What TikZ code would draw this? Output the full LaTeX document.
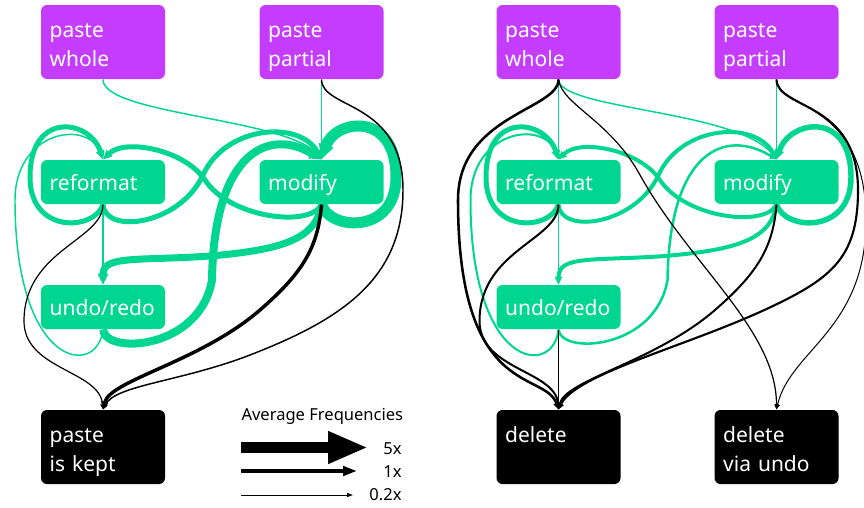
\documentclass[tikz,border=0pt]{standalone}
\usepackage{fontspec}
\setmainfont{Noto Sans}
\usetikzlibrary{arrows.meta,backgrounds}

\definecolor{pastepurple}{RGB}{196,61,255}
\definecolor{editgreen}{RGB}{0,214,143}

\tikzset{every picture/.style={line width=0.75pt}}
\tikzset{
  box/.style={rectangle, rounded corners=4.5pt, text=white, align=left,
    text width=80pt, inner xsep=6.5pt, inner ysep=0pt,
    font=\fontsize{15.75pt}{21.75pt}\selectfont},
  tallbox/.style={box, minimum height=55.5pt, text height=16.25pt, text depth=23.75pt},
  pastebox/.style={tallbox, fill=pastepurple},
  endbox/.style={tallbox, fill=black},
  editbox/.style={box, fill=editgreen, minimum height=33pt, text height=16.5pt, text depth=3.5pt},
  flow/.style={-{Triangle[length=3pt 1, width=2.5pt 1]}},
  gflow/.style={flow, color=editgreen},
  kflow/.style={flow, color=black},
  legendtext/.style={font=\fontsize{12.4pt}{15pt}\selectfont, inner sep=0pt},
}

\begin{document}
\begin{tikzpicture}[x=0.75pt,y=0.75pt,yscale=-1,xscale=1]
\useasboundingbox (0,0) rectangle (864,507);

%Boxes: paste is kept
\node[pastebox] (pwL) at (103,42) {paste\\whole};
\node[pastebox] (ppL) at (321.5,42) {paste\\partial};
\node[editbox] (rfL) at (103,182) {reformat};
\node[editbox] (mdL) at (321.5,182) {modify};
\node[editbox] (urL) at (103,307) {undo/redo};
\node[endbox] (keptL) at (103,447) {paste\\is kept};

%Boxes: paste is deleted
\node[pastebox] (pwR) at (558.5,42) {paste\\whole};
\node[pastebox] (ppR) at (776.5,42) {paste\\partial};
\node[editbox] (rfR) at (558.5,182) {reformat};
\node[editbox] (mdR) at (776.5,182) {modify};
\node[editbox] (urR) at (558.5,307) {undo/redo};
\node[endbox] (delR) at (558.5,447) {delete};
\node[endbox] (duR) at (776.5,447) {delete\\via undo};

\begin{scope}[on background layer]
%Green flows, left
\draw[gflow, line width=1.1pt] (pwL.south) .. controls (103,115) and (290,118) .. (mdL.north);
\draw[gflow, line width=1.1pt] (ppL.south) -- (mdL.north);
\draw[gflow, line width=1.1pt] (rfL.south) -- (urL.north);
\draw[gflow, line width=8.25pt] (mdL.south) .. controls +(8,26) and +(0,58) .. (396,177) .. controls +(0,-67) and +(13,-40) .. (mdL.north);
\draw[gflow, line width=3.75pt] (rfL.south) .. controls +(-8,26) and +(0,58) .. (30,177) .. controls +(0,-67) and +(-13,-40) .. (rfL.north);
\draw[gflow, line width=3.75pt] (rfL.south) .. controls (105,235) and (180,225) .. (203,175) .. controls (226,125) and (300,120) .. (mdL.north);
\draw[gflow, line width=3.75pt] (mdL.south) .. controls (310,228) and (230,218) .. (205,180) .. controls (185,150) and (125,138) .. (rfL.north);
\draw[gflow, line width=6pt] (urL.south) .. controls (105,355) and (200,350) .. (212,280) .. controls (214,150) and (270,128) .. (mdL.north);
\draw[gflow, line width=5.25pt] (mdL.south) .. controls (316,240) and (280,250) .. (210,256) .. controls (140,261) and (103,255) .. (urL.north);
\draw[gflow, line width=1.1pt] (urL.south) .. controls (98,378) and (15,370) .. (15,200) .. controls (15,130) and (90,118) .. (rfL.north);

%Black flows, left
\draw[kflow, line width=1.1pt] (ppL.south) .. controls (322,110) and (403,100) .. (403,190) .. controls (403,280) and (340,320) .. (250,355) .. controls (180,382) and (115,385) .. (keptL.north);
\draw[kflow, line width=2.6pt] (mdL.south) .. controls (318,250) and (300,275) .. (260,310) .. controls (200,362) and (110,380) .. (keptL.north);
\draw[kflow, line width=0.9pt] (rfL.south) .. controls (103,240) and (25,250) .. (24,320) .. controls (23,370) and (100,370) .. (keptL.north);

%Green flows, right
\draw[gflow, line width=1.1pt] (pwR.south) -- (rfR.north);
\draw[gflow, line width=1.1pt] (pwR.south) .. controls (560,110) and (740,110) .. (mdR.north);
\draw[gflow, line width=1.1pt] (ppR.south) -- (mdR.north);
\draw[gflow, line width=1.1pt] (rfR.south) -- (urR.north);
\draw[gflow, line width=4.1pt] (mdR.south) .. controls +(8,26) and +(0,58) .. (851,177) .. controls +(0,-67) and +(13,-40) .. (mdR.north);
\draw[gflow, line width=3.75pt] (rfR.south) .. controls +(-8,26) and +(0,58) .. (486,177) .. controls +(0,-67) and +(-13,-40) .. (rfR.north);
\draw[gflow, line width=3pt] (rfR.south) .. controls (560.5,235) and (635.5,225) .. (658.5,175) .. controls (681.5,125) and (755.5,120) .. (mdR.north);
\draw[gflow, line width=3pt] (mdR.south) .. controls (765,228) and (685,218) .. (660,180) .. controls (640,150) and (580,138) .. (rfR.north);
\draw[gflow, line width=1.9pt] (urR.south) .. controls (560.5,355) and (655.5,350) .. (667.5,280) .. controls (669.5,150) and (725.5,128) .. (mdR.north);
\draw[gflow, line width=3pt] (mdR.south) .. controls (771,240) and (735,250) .. (665,256) .. controls (595,261) and (558.5,255) .. (urR.north);
\draw[gflow, line width=1.5pt] (urR.south) .. controls (553.5,378) and (470.5,370) .. (470.5,200) .. controls (470.5,130) and (545.5,118) .. (rfR.north);

%Black flows, right
\draw[kflow, line width=1.9pt] (pwR.south) .. controls (558.5,110) and (458,115) .. (458,200) .. controls (458,400) and (545,370) .. (delR.north);
\draw[kflow, line width=0.9pt] (pwR.south) .. controls (562,105) and (610,120) .. (640,175) .. controls (690,265) and (776.5,330) .. (duR.north);
\draw[kflow, line width=1.5pt] (rfR.south) .. controls (558.5,240) and (480.5,250) .. (479.5,320) .. controls (478.5,370) and (555.5,370) .. (delR.north);
\draw[kflow, line width=0.9pt] (urR.south) -- (delR.north);
\draw[kflow, line width=1.5pt] (mdR.south) .. controls (773,250) and (755,275) .. (715,310) .. controls (655,362) and (565,380) .. (delR.north);
\draw[kflow, line width=1.6pt] (ppR.south) .. controls (777,110) and (858,100) .. (858,190) .. controls (858,260) and (830,280) .. (760,312) .. controls (680,348) and (575,375) .. (delR.north);
\draw[kflow, line width=0.75pt] (ppR.south) .. controls (778,110) and (866,100) .. (866,220) .. controls (866,330) and (790,350) .. (duR.north);
\end{scope}

%Legend
\node[legendtext, anchor=base west] (freqtitle) at (241,420) {Average Frequencies};
\node[legendtext, anchor=base east] (f5lbl) at (402,454) {5x};
\node[legendtext, anchor=base east] (f1lbl) at (402,477) {1x};
\node[legendtext, anchor=base east] (f02lbl) at (402,500) {0.2x};
\coordinate (f5a) at (241,447.5);
\coordinate (f5b) at (368,447.5);
\coordinate (f1a) at (241,471);
\coordinate (f1b) at (357,471);
\coordinate (f02a) at (241,495);
\coordinate (f02b) at (353,495);
\draw[line width=8.75pt, -{Triangle[length=30pt 0, width=22.5pt 0]}] (f5a) -- (f5b);
\draw[line width=3pt, -{Triangle[length=10.5pt 0, width=7pt 0]}] (f1a) -- (f1b);
\draw[line width=0.75pt, -{Triangle[length=4.5pt 0, width=3pt 0]}] (f02a) -- (f02b);
\end{tikzpicture}
\end{document}
